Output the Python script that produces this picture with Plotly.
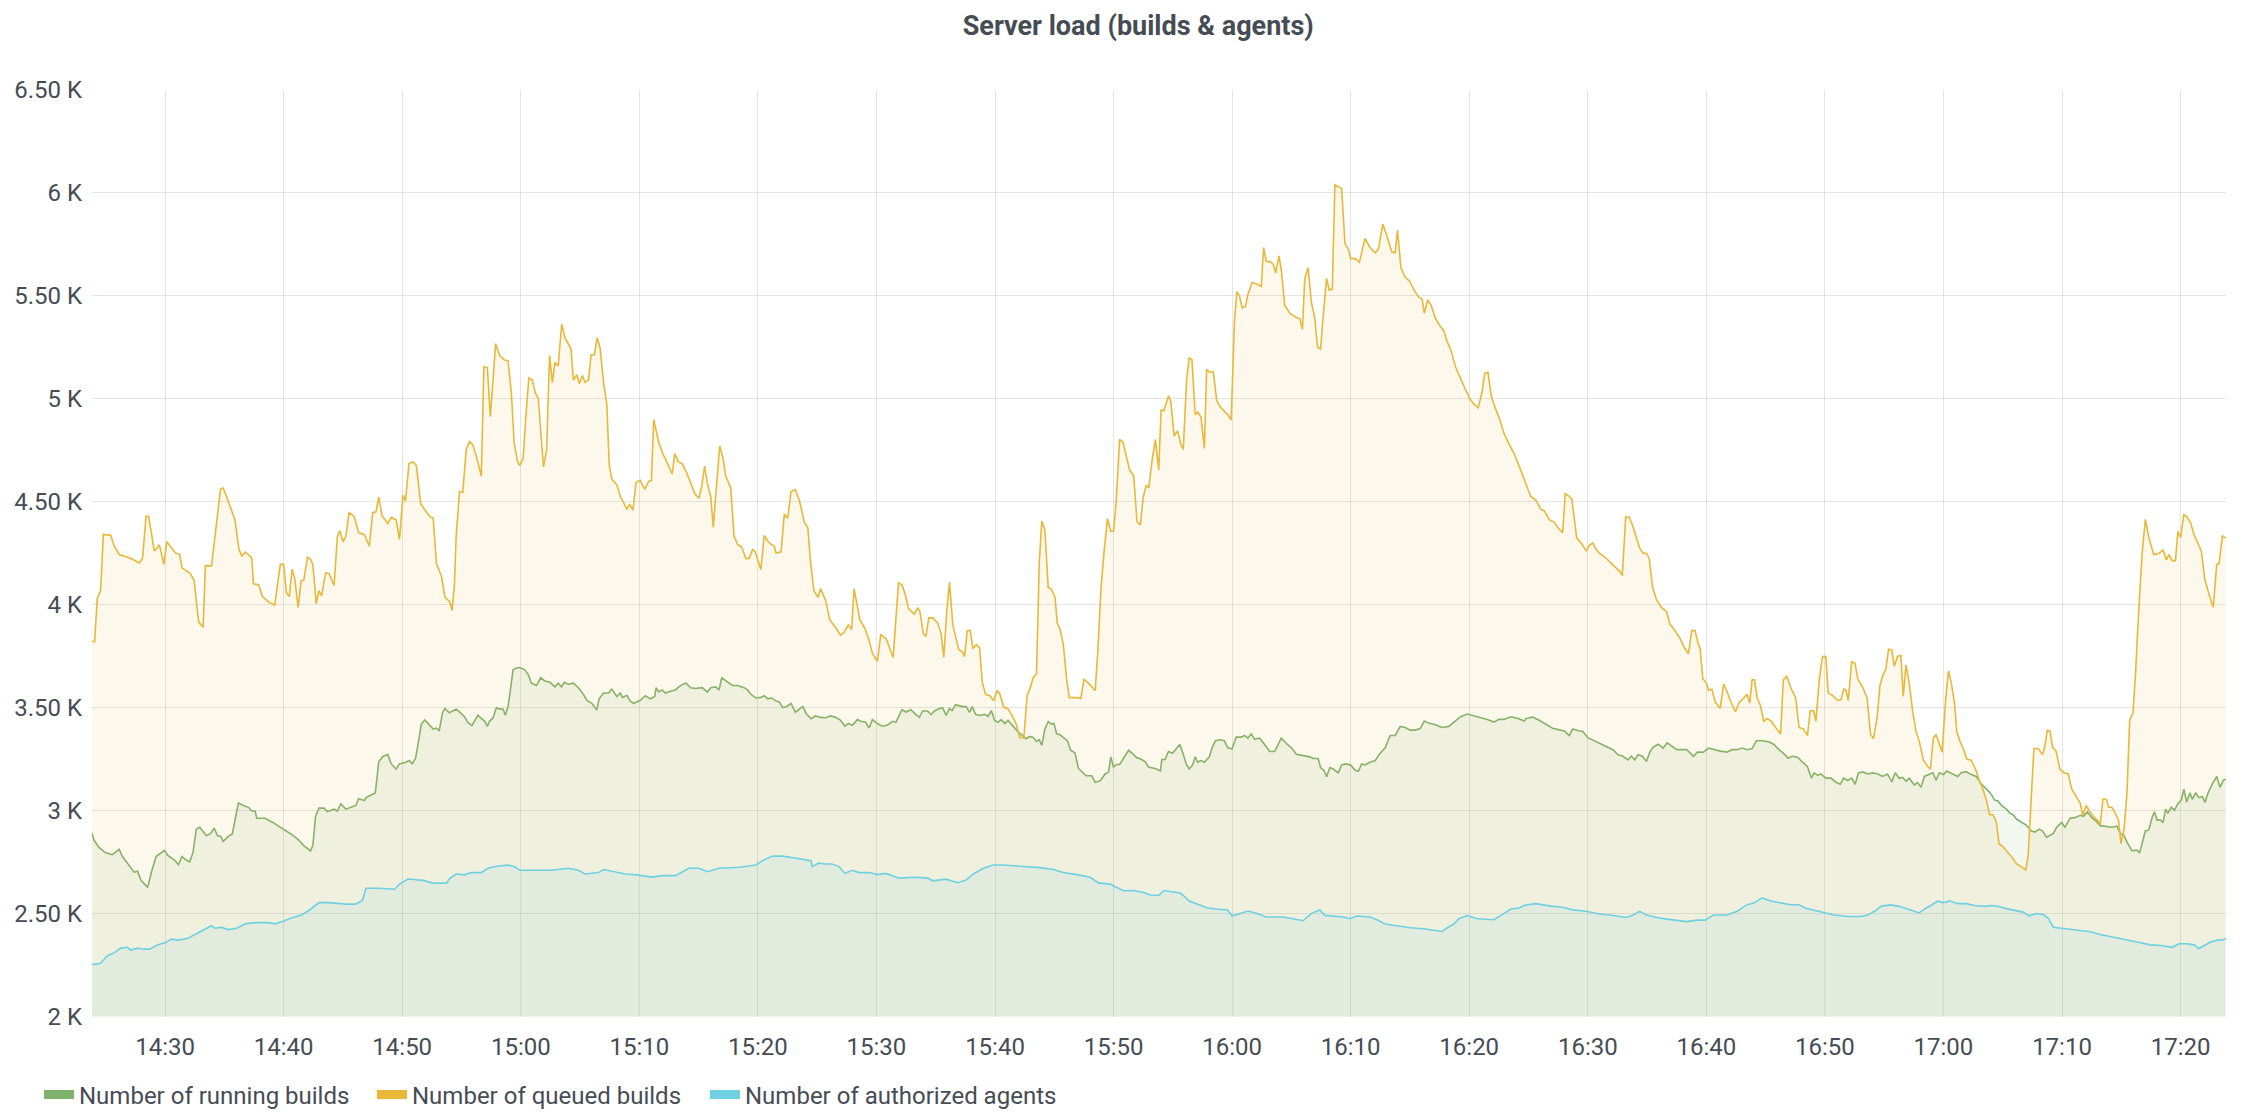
import pandas as pd
import plotly.graph_objects as go

# ---------------- data ----------------
BASE_TIME = "2024-01-01 14:24:00"          # time offsets below are minutes after this
TITLE = "Server load (builds & agents)"
SERIES_NAMES = ["Number of running builds", "Number of queued builds", "Number of authorized agents"]
SERIES_COLORS = ["#7EB26D", "#EAB839", "#6ED0E0"]
FILL_COLORS = ["rgba(126,178,109,0.1)", "rgba(222,190,70,0.1)", "rgba(110,208,224,0.1)"]
Y_TICK_VALUES = [2000, 2500, 3000, 3500, 4000, 4500, 5000, 5500, 6000, 6500]
Y_TICK_LABELS = ["2 K", "2.50 K", "3 K", "3.50 K", "4 K", "4.50 K", "5 K", "5.50 K", "6 K", "6.50 K"]
X_RANGE = ["2024-01-01 14:23:50", "2024-01-01 17:23:50"]

# Number of queued builds
Q_T = [-0.17, 0.05, 0.28, 0.56, 0.79, 1.41, 1.69, 2.12, 3.11, 3.82, 4.10, 4.39, 4.61, 5.09, 5.52, 5.89, 6.14, 6.51, 6.85, 7.22,
       7.44, 8.07, 8.44, 8.83, 9.20, 9.40, 9.91, 10.19, 10.67, 10.90, 11.18, 11.89, 12.23, 12.46, 12.74, 13.03, 13.31, 13.45, 13.88, 14.22,
       14.73, 15.24, 15.43, 15.72, 16.00, 16.23, 16.48, 16.71, 16.93, 17.22, 17.47, 17.70, 18.01, 18.27, 18.46, 18.75, 18.97, 19.20, 19.54, 19.82,
       20.25, 20.53, 20.73, 21.01, 21.24, 21.52, 21.95, 22.32, 22.80, 23.22, 23.51, 23.79, 24.02, 24.30, 24.78, 25.07, 25.49, 25.77, 26.06, 26.28,
       26.57, 26.91, 27.19, 27.56, 27.90, 28.32, 28.61, 28.89, 29.31, 29.60, 30.02, 30.20, 30.40, 30.55, 30.83, 31.11, 31.40, 31.68, 31.96, 32.24,
       32.67, 32.89, 33.18, 33.43, 33.66, 33.88, 34.22, 34.64, 34.93, 35.21, 35.44, 35.72, 35.92, 36.20, 36.42, 36.68, 36.96, 37.24, 37.47, 37.69,
       37.92, 38.18, 38.43, 38.66, 38.88, 39.16, 39.45, 39.73, 40.07, 40.24, 40.44, 40.72, 40.94, 41.20, 41.42, 41.71, 41.93, 42.21, 42.44, 42.69,
       42.98, 43.26, 43.46, 43.68, 44.11, 44.39, 44.67, 44.95, 45.18, 45.46, 45.72, 46.08, 46.45, 46.79, 47.02, 47.21, 47.64, 47.98, 48.34, 48.77,
       48.99, 49.28, 49.62, 49.95, 50.32, 50.69, 51.03, 51.25, 51.51, 51.73, 52.02, 52.24, 52.44, 52.78, 53.06, 53.29, 53.71, 53.99, 54.28, 54.64,
       54.98, 55.27, 55.55, 55.77, 56.25, 56.54, 56.82, 57.10, 57.38, 57.53, 57.95, 58.23, 58.51, 58.80, 59.16, 59.50, 59.93, 60.21, 60.44, 60.72,
       61.08, 61.28, 61.71, 62.05, 62.50, 62.98, 63.26, 63.63, 63.91, 64.11, 64.59, 65.04, 65.38, 65.66, 66.08, 66.37, 66.85, 67.13, 67.41, 67.86,
       68.15, 68.43, 68.71, 69.19, 69.47, 69.67, 69.95, 70.18, 70.41, 70.75, 71.17, 71.45, 71.68, 71.93, 72.16, 72.44, 72.72, 72.95, 73.23, 73.43,
       73.66, 73.91, 74.14, 74.42, 74.70, 74.93, 75.21, 75.55, 75.89, 76.17, 76.40, 76.73, 77.10, 77.53, 77.81, 78.09, 78.43, 78.71, 79.00, 79.22,
       79.50, 79.73, 79.95, 80.21, 80.49, 80.77, 81.06, 81.25, 81.48, 81.76, 82.05, 82.27, 82.61, 82.95, 83.23, 83.51, 83.80, 84.08, 84.45, 84.67,
       84.95, 85.21, 85.49, 85.77, 86.00, 86.23, 86.51, 86.79, 87.07, 87.36, 87.70, 87.98, 88.26, 88.49, 88.74, 88.97, 89.25, 89.53, 89.81, 90.01,
       90.24, 90.63, 90.83, 91.11, 91.40, 91.68, 91.88, 92.16, 92.38, 92.61, 92.89, 93.09, 93.38, 93.66, 93.85, 94.08, 94.42, 94.70, 94.98, 95.35,
       95.63, 95.92, 96.20, 96.40, 96.62, 96.85, 97.13, 97.33, 97.69, 98.03, 98.46, 98.66, 98.88, 99.31, 99.50, 99.67, 99.95, 100.15, 100.44, 100.86,
       101.42, 101.71, 101.93, 102.13, 102.41, 102.69, 102.98, 103.20, 103.46, 103.68, 103.97, 104.19, 104.45, 104.67, 104.95, 105.24, 105.52, 105.80, 106.00, 106.37,
       106.73, 107.21, 107.63, 108.06, 108.34, 108.71, 109.05, 109.47, 109.75, 109.95, 110.24, 110.60, 110.97, 111.31, 111.73, 112.02, 112.21, 112.50, 112.78, 113.15,
       113.57, 113.86, 114.14, 114.47, 114.84, 115.27, 115.69, 116.06, 116.40, 116.76, 117.10, 117.30, 117.58, 117.86, 118.15, 118.51, 118.94, 119.36, 119.79, 120.10,
       120.70, 121.19, 121.62, 122.04, 122.32, 122.75, 123.17, 123.45, 123.88, 124.10, 124.44, 124.66, 124.87, 125.07, 125.44, 125.86, 126.14, 126.42, 126.71, 126.99,
       127.41, 127.84, 128.26, 128.69, 128.91, 129.20, 129.48, 129.76, 130.10, 130.38, 130.67, 130.95, 131.18, 131.46, 131.80, 132.22, 132.65, 132.93, 133.36, 133.78,
       134.20, 134.49, 134.77, 135.05, 135.28, 135.48, 135.70, 135.99, 136.18, 136.47, 136.75, 137.17, 137.46, 137.74, 138.02, 138.45, 138.73, 139.15, 139.44, 139.66,
       139.86, 140.06, 140.29, 140.57, 140.85, 141.14, 141.48, 141.93, 142.27, 142.49, 142.78, 143.12, 143.54, 143.82, 144.19, 144.53, 144.76, 145.04, 145.24, 145.52,
       145.80, 146.08, 146.28, 146.64, 147.08, 147.37, 147.58, 147.78, 147.97, 148.26, 148.54, 148.77, 149.20, 149.56, 149.85, 150.10, 150.40, 150.65, 150.86, 151.14,
       151.37, 151.65, 151.85, 152.13, 152.41, 152.61, 152.84, 153.12, 153.40, 153.68, 153.97, 154.31, 154.67, 154.90, 155.15, 155.38, 155.66, 155.89, 156.17, 156.42,
       156.65, 156.93, 157.13, 157.41, 157.69, 157.98, 158.34, 158.71, 159.05, 159.33, 159.62, 159.90, 160.18, 160.46, 160.69, 161.03, 161.31, 161.73, 162.16, 162.58,
       162.95, 163.15, 163.34, 163.63, 164.00, 164.36, 164.56, 164.76, 164.99, 165.21, 165.49, 165.83, 166.17, 166.53, 166.82, 167.24, 167.53, 167.75, 168.03, 168.36,
       168.64, 169.08, 169.22, 169.45, 169.73, 169.93, 170.20, 170.49, 170.77, 170.97, 171.24, 171.48, 171.71, 171.99, 172.19, 172.47, 172.75, 173.03, 173.32, 173.74,
       174.16, 174.53, 174.81, 175.01, 175.29, 175.57, 175.77, 176.00, 176.28, 176.51, 176.85, 177.13, 177.47, 177.75, 178.03, 178.40, 178.76, 179.05, 179.25, 179.53,
       179.81]
Q_V = [3823, 3820, 4032, 4067, 4341, 4337, 4288, 4244, 4226, 4203, 4226, 4429, 4429, 4261, 4291, 4196, 4306, 4280, 4253, 4244,
       4178, 4155, 4120, 3917, 3890, 4190, 4188, 4323, 4562, 4567, 4526, 4412, 4270, 4235, 4256, 4244, 4226, 4102, 4097, 4040,
       4014, 3998, 4085, 4196, 4196, 4058, 4040, 4173, 4129, 3987, 4115, 4120, 4231, 4221, 4196, 4005, 4069, 4044, 4155, 4152,
       4094, 4332, 4359, 4306, 4332, 4447, 4429, 4350, 4341, 4284, 4447, 4451, 4523, 4433, 4394, 4424, 4412, 4318, 4532, 4504,
       4686, 4694, 4677, 4491, 4461, 4429, 4420, 4200, 4138, 4037, 4014, 3972, 4095, 4333, 4550, 4546, 4755, 4792, 4777, 4723,
       4625, 5156, 5152, 4913, 5091, 5268, 5210, 5188, 5184, 5026, 4788, 4697, 4675, 4712, 4907, 5102, 5091, 5026, 5004, 4831,
       4669, 4755, 5210, 5080, 5177, 5160, 5362, 5297, 5264, 5242, 5091, 5117, 5074, 5113, 5080, 5091, 5214, 5214, 5297, 5247,
       5080, 4972, 4680, 4610, 4582, 4528, 4496, 4463, 4489, 4459, 4593, 4604, 4560, 4600, 4602, 4900, 4788, 4734, 4690, 4636,
       4734, 4695, 4684, 4647, 4593, 4539, 4517, 4571, 4673, 4593, 4528, 4376, 4528, 4771, 4712, 4625, 4567, 4333, 4294, 4279,
       4225, 4225, 4268, 4257, 4171, 4337, 4311, 4294, 4285, 4251, 4257, 4441, 4420, 4550, 4558, 4506, 4398, 4376, 4208, 4069,
       4036, 4078, 4022, 3930, 3893, 3852, 3865, 3902, 3880, 4078, 3930, 3883, 3828, 3763, 3726, 3856, 3831, 3791, 3744, 4106,
       4097, 4051, 3981, 3954, 3986, 3967, 3861, 3846, 3936, 3936, 3911, 3861, 3744, 3967, 4110, 3902, 3837, 3781, 3772, 3748,
       3874, 3874, 3787, 3806, 3791, 3623, 3564, 3559, 3534, 3583, 3568, 3503, 3494, 3453, 3416, 3354, 3354, 3559, 3601, 3646,
       3664, 4199, 4407, 4362, 4084, 4075, 4036, 3911, 3883, 3809, 3633, 3549, 3549, 3549, 3545, 3637, 3624, 3605, 3583, 3772,
       4088, 4264, 4418, 4357, 4357, 4506, 4803, 4790, 4728, 4654, 4626, 4403, 4388, 4519, 4580, 4567, 4701, 4803, 4654, 4946,
       4942, 5014, 4988, 4819, 4845, 4780, 4754, 5091, 5200, 5190, 4923, 4936, 4910, 4759, 5143, 5130, 5130, 4993, 4962, 4941,
       4923, 4897, 5377, 5520, 5502, 5442, 5450, 5507, 5564, 5559, 5546, 5735, 5668, 5663, 5650, 5611, 5694, 5624, 5455, 5416,
       5395, 5390, 5338, 5585, 5637, 5468, 5390, 5252, 5242, 5403, 5585, 5528, 5533, 6039, 6031, 6021, 5753, 5727, 5681, 5681,
       5663, 5779, 5735, 5709, 5727, 5849, 5792, 5714, 5709, 5818, 5637, 5590, 5572, 5533, 5494, 5486, 5416, 5481, 5455, 5390,
       5351, 5330, 5278, 5234, 5156, 5097, 5045, 5000, 4974, 4956, 5039, 5123, 5130, 5014, 4962, 4910, 4832, 4780, 4733, 4690,
       4600, 4526, 4508, 4463, 4458, 4413, 4400, 4376, 4350, 4539, 4526, 4513, 4413, 4325, 4300, 4263, 4288, 4300, 4268, 4250,
       4233, 4208, 4182, 4162, 4142, 4426, 4426, 4388, 4325, 4275, 4250, 4250, 4225, 4087, 4024, 3987, 3966, 3906, 3874, 3836,
       3786, 3761, 3874, 3874, 3816, 3786, 3640, 3622, 3585, 3590, 3527, 3497, 3615, 3580, 3535, 3480, 3522, 3547, 3565, 3522,
       3635, 3635, 3547, 3509, 3434, 3447, 3434, 3397, 3372, 3635, 3653, 3597, 3547, 3404, 3397, 3364, 3485, 3485, 3434, 3635,
       3748, 3748, 3572, 3560, 3535, 3540, 3590, 3585, 3535, 3723, 3715, 3640, 3597, 3547, 3370, 3350, 3450, 3610, 3652, 3687,
       3784, 3779, 3701, 3749, 3754, 3555, 3708, 3616, 3484, 3387, 3334, 3245, 3214, 3201, 3355, 3369, 3325, 3284, 3528, 3678,
       3625, 3525, 3383, 3334, 3298, 3249, 3245, 3201, 3143, 3104, 3051, 2980, 2980, 2945, 2839, 2825, 2804, 2777, 2742, 2724,
       2712, 2786, 2998, 3302, 3302, 3272, 3316, 3390, 3386, 3307, 3290, 3201, 3184, 3178, 3104, 3060, 3037, 2977, 3025, 2995,
       2972, 2949, 2931, 3055, 3055, 3016, 3016, 2989, 2954, 2839, 2913, 3086, 3440, 3475, 3652, 3970, 4244, 4415, 4327, 4244,
       4249, 4265, 4217, 4244, 4214, 4214, 4355, 4327, 4438, 4429, 4398, 4341, 4297, 4261, 4129, 4049, 3988, 4196, 4200, 4336,
       4323]

# Number of running builds
R_T = [-0.17, 0.00, 0.42, 0.99, 1.55, 2.12, 2.40, 2.97, 3.39, 3.68, 3.96, 4.53, 4.87, 5.24, 5.66, 5.94, 6.23, 6.79, 7.13, 7.42,
       7.78, 8.07, 8.35, 8.63, 8.92, 9.48, 9.85, 10.14, 10.42, 10.70, 10.90, 11.33, 11.67, 12.18, 12.60, 13.03, 13.31, 13.59, 13.73, 14.44,
       15.01, 15.58, 16.14, 16.71, 17.27, 17.70, 18.27, 18.46, 18.69, 18.97, 19.40, 19.68, 20.25, 20.53, 20.82, 21.24, 21.67, 22.09, 22.32, 22.80,
       23.00, 23.37, 23.73, 24.02, 24.36, 24.78, 25.07, 25.49, 25.77, 26.20, 26.57, 26.85, 27.13, 27.61, 27.90, 28.32, 28.61, 28.89, 29.12, 29.40,
       29.60, 29.97, 30.55, 30.97, 31.25, 31.54, 31.88, 32.10, 32.38, 32.72, 32.95, 33.18, 33.37, 33.66, 33.94, 34.22, 34.50, 34.70, 34.93, 35.15,
       35.35, 35.63, 35.92, 36.34, 36.62, 36.90, 37.33, 37.69, 38.03, 38.46, 38.88, 39.16, 39.45, 39.67, 40.01, 40.44, 40.86, 41.28, 41.56, 41.99,
       42.41, 42.61, 42.98, 43.40, 43.68, 44.11, 44.39, 44.59, 44.95, 45.24, 45.52, 46.08, 46.51, 46.93, 47.30, 47.41, 47.64, 47.92, 48.20, 48.63,
       49.05, 49.33, 49.67, 49.95, 50.32, 50.75, 51.31, 51.73, 52.02, 52.44, 52.72, 52.95, 53.43, 53.85, 54.28, 54.84, 55.12, 55.41, 55.83, 56.25,
       56.54, 56.82, 57.19, 57.53, 57.81, 58.09, 58.43, 58.80, 59.16, 59.50, 59.79, 60.07, 60.49, 60.86, 61.28, 61.71, 62.13, 62.55, 62.98, 63.34,
       63.63, 63.97, 64.39, 64.67, 65.10, 65.38, 65.66, 66.08, 66.51, 66.93, 67.36, 67.64, 67.92, 68.15, 68.49, 68.91, 69.33, 69.62, 69.90, 70.32,
       70.60, 70.89, 71.31, 71.59, 71.88, 72.16, 72.38, 72.67, 72.95, 73.29, 73.57, 73.85, 74.08, 74.36, 74.70, 75.12, 75.41, 75.69, 75.97, 76.25,
       76.54, 76.82, 77.10, 77.38, 77.67, 77.95, 78.32, 78.60, 78.94, 79.22, 79.50, 79.73, 79.95, 80.21, 80.49, 80.77, 80.97, 81.20, 81.48, 81.76,
       82.10, 82.38, 82.75, 83.03, 83.40, 83.68, 84.16, 84.45, 84.87, 85.29, 85.58, 85.77, 86.00, 86.23, 86.51, 86.79, 87.27, 87.64, 87.98, 88.26,
       88.68, 88.97, 89.45, 89.95, 90.07, 90.35, 90.63, 90.97, 91.31, 91.59, 91.88, 92.16, 92.38, 92.67, 92.89, 93.09, 93.37, 93.66, 94.08, 94.31,
       94.59, 94.98, 95.35, 95.63, 96.00, 96.34, 96.76, 97.05, 97.33, 97.61, 97.89, 98.32, 98.74, 99.16, 99.59, 100.15, 100.58, 101.00, 101.42, 101.99,
       102.55, 102.84, 103.26, 103.46, 103.74, 103.97, 104.25, 104.53, 104.95, 105.24, 105.60, 106.00, 106.37, 106.65, 106.93, 107.21, 107.64, 108.06, 108.49, 108.91,
       109.33, 109.76, 110.18, 110.60, 111.03, 111.45, 111.88, 112.21, 112.58, 113.15, 113.71, 114.28, 114.84, 115.27, 115.83, 116.40, 116.96, 117.53, 118.09, 118.51,
       118.94, 119.50, 120.07, 120.66, 120.77, 121.33, 121.90, 122.46, 123.03, 123.60, 124.02, 124.44, 124.73, 125.15, 125.58, 126.00, 126.57, 127.13, 127.70, 128.12,
       128.55, 128.97, 129.39, 129.68, 129.96, 130.24, 130.61, 130.95, 131.23, 131.52, 131.94, 132.36, 132.70, 133.07, 133.50, 134.35, 134.91, 135.25, 135.76, 136.18,
       136.61, 137.17, 137.74, 138.16, 138.59, 139.01, 139.44, 139.86, 140.23, 140.71, 141.28, 141.70, 142.12, 142.49, 142.89, 143.26, 143.68, 144.11, 144.53, 144.87,
       145.09, 145.38, 145.66, 146.08, 146.51, 146.93, 147.30, 147.58, 147.92, 148.26, 148.55, 148.83, 149.20, 149.62, 150.05, 150.47, 150.86, 151.28, 151.65, 151.93,
       152.27, 152.55, 152.84, 153.12, 153.54, 153.82, 154.11, 154.39, 154.76, 155.10, 155.38, 155.66, 156.00, 156.28, 156.56, 156.93, 157.21, 157.50, 157.92, 158.34,
       158.76, 159.19, 159.62, 159.95, 160.32, 160.60, 160.89, 161.31, 161.59, 161.88, 162.16, 162.58, 163.01, 163.43, 163.71, 164.08, 164.36, 164.70, 164.98, 165.27,
       165.55, 165.97, 166.25, 166.68, 167.10, 167.53, 167.81, 168.15, 168.51, 168.88, 169.22, 169.79, 170.21, 170.63, 170.92, 171.20, 171.48, 171.90, 172.33, 172.55,
       172.84, 173.03, 173.32, 173.60, 173.80, 174.02, 174.31, 174.53, 174.73, 174.93, 175.21, 175.49, 175.77, 176.06, 176.28, 176.51, 176.79, 176.99, 177.27, 177.55,
       177.84, 178.06, 178.32, 178.68, 179.05, 179.33, 179.62, 179.81]
R_V = [2892, 2857, 2821, 2795, 2786, 2812, 2777, 2733, 2701, 2706, 2662, 2627, 2707, 2777, 2795, 2807, 2782, 2760, 2737, 2777,
       2760, 2751, 2795, 2910, 2919, 2878, 2889, 2915, 2878, 2875, 2851, 2875, 2887, 3037, 3025, 3016, 2998, 2998, 2963, 2963,
       2945, 2924, 2901, 2883, 2857, 2830, 2804, 2830, 2972, 3012, 3012, 2995, 3007, 2998, 3033, 3007, 3016, 3025, 3058, 3049,
       3065, 3077, 3086, 3237, 3263, 3272, 3228, 3201, 3228, 3232, 3243, 3228, 3254, 3419, 3440, 3414, 3396, 3401, 3387, 3475,
       3496, 3475, 3493, 3472, 3456, 3428, 3413, 3435, 3463, 3446, 3435, 3409, 3435, 3450, 3500, 3493, 3493, 3463, 3506, 3597,
       3684, 3693, 3695, 3684, 3662, 3619, 3608, 3645, 3630, 3623, 3601, 3619, 3601, 3623, 3614, 3619, 3597, 3565, 3536, 3521,
       3489, 3543, 3571, 3571, 3589, 3554, 3571, 3550, 3560, 3532, 3521, 3536, 3558, 3543, 3554, 3597, 3576, 3586, 3571, 3580,
       3586, 3601, 3614, 3619, 3597, 3593, 3597, 3576, 3597, 3601, 3586, 3645, 3623, 3608, 3608, 3597, 3586, 3565, 3547, 3550,
       3558, 3543, 3547, 3532, 3528, 3500, 3506, 3521, 3478, 3493, 3506, 3472, 3446, 3460, 3453, 3451, 3460, 3453, 3438, 3410,
       3423, 3414, 3442, 3434, 3429, 3401, 3442, 3423, 3410, 3416, 3434, 3429, 3460, 3490, 3479, 3490, 3466, 3453, 3484, 3484,
       3466, 3484, 3496, 3499, 3462, 3496, 3486, 3514, 3510, 3505, 3505, 3477, 3505, 3468, 3462, 3468, 3458, 3486, 3438, 3429,
       3442, 3423, 3438, 3419, 3401, 3382, 3364, 3349, 3360, 3355, 3336, 3345, 3317, 3397, 3433, 3420, 3423, 3373, 3368, 3355,
       3340, 3293, 3280, 3206, 3187, 3169, 3169, 3137, 3145, 3178, 3187, 3261, 3211, 3224, 3224, 3252, 3293, 3274, 3256, 3252,
       3237, 3211, 3206, 3193, 3248, 3248, 3287, 3279, 3300, 3321, 3274, 3222, 3202, 3222, 3261, 3235, 3243, 3235, 3261, 3305,
       3339, 3344, 3339, 3305, 3300, 3357, 3357, 3365, 3352, 3373, 3347, 3352, 3321, 3287, 3287, 3352, 3326, 3305, 3274, 3269,
       3261, 3253, 3253, 3209, 3196, 3165, 3209, 3202, 3183, 3222, 3227, 3222, 3196, 3191, 3227, 3222, 3235, 3243, 3279, 3305,
       3365, 3365, 3409, 3404, 3391, 3391, 3399, 3435, 3425, 3417, 3404, 3409, 3435, 3456, 3469, 3461, 3451, 3443, 3430, 3443,
       3443, 3456, 3448, 3435, 3447, 3454, 3439, 3418, 3400, 3392, 3387, 3364, 3397, 3389, 3384, 3354, 3339, 3321, 3309, 3296,
       3271, 3264, 3246, 3264, 3246, 3271, 3264, 3238, 3284, 3309, 3322, 3304, 3329, 3314, 3296, 3296, 3264, 3284, 3284, 3304,
       3296, 3289, 3284, 3296, 3296, 3304, 3296, 3301, 3339, 3339, 3334, 3321, 3296, 3279, 3254, 3264, 3259, 3234, 3213, 3158,
       3183, 3171, 3178, 3158, 3158, 3138, 3128, 3158, 3146, 3158, 3128, 3183, 3188, 3178, 3183, 3178, 3166, 3178, 3139, 3184,
       3157, 3161, 3143, 3157, 3125, 3136, 3113, 3166, 3175, 3184, 3148, 3184, 3175, 3192, 3184, 3175, 3166, 3184, 3189, 3175,
       3166, 3130, 3104, 3086, 3051, 3047, 3025, 3007, 2989, 2980, 2959, 2945, 2928, 2901, 2896, 2910, 2901, 2871, 2878, 2889,
       2919, 2942, 2919, 2963, 2966, 2977, 2972, 2994, 2966, 2949, 2927, 2924, 2919, 2924, 2888, 2883, 2847, 2805, 2808, 2795,
       2853, 2901, 2906, 2966, 2994, 2954, 2954, 2942, 3007, 2989, 3016, 3002, 3033, 3051, 3104, 3042, 3086, 3055, 3085, 3063,
       3069, 3040, 3086, 3130, 3166, 3113, 3148, 3152]

# Number of authorized agents
A_T = [-0.17, 0.56, 1.13, 1.69, 2.26, 2.83, 3.11, 3.68, 4.24, 4.67, 5.38, 6.08, 6.51, 7.08, 7.93, 8.49, 9.20, 9.91, 10.19, 10.76,
       11.33, 12.03, 12.74, 13.59, 14.73, 15.29, 16.00, 16.71, 17.56, 18.27, 18.97, 19.82, 21.24, 22.09, 22.66, 22.94, 24.07, 25.35, 25.77, 26.48,
       27.19, 27.76, 28.61, 29.74, 30.02, 30.55, 31.25, 31.82, 32.67, 33.23, 34.08, 34.93, 35.49, 35.92, 36.90, 38.60, 39.99, 40.86, 41.42, 42.55,
       42.98, 43.68, 44.81, 45.80, 47.07, 47.92, 49.05, 50.18, 51.03, 51.73, 52.72, 54.42, 55.83, 56.40, 57.24, 58.09, 58.94, 59.79, 60.49, 60.58,
       61.14, 61.71, 62.27, 62.84, 63.34, 63.97, 64.53, 65.38, 66.08, 66.79, 67.92, 69.33, 70.32, 70.75, 71.88, 72.86, 73.57, 74.14, 74.98, 75.83,
       76.68, 77.53, 78.66, 79.79, 80.92, 81.76, 82.89, 84.02, 84.73, 85.72, 86.14, 86.85, 87.70, 88.54, 89.11, 89.81, 90.24, 90.97, 91.68, 92.38,
       93.23, 93.94, 94.64, 95.63, 96.00, 96.76, 97.33, 98.03, 98.88, 100.29, 101.42, 101.99, 102.69, 103.40, 103.82, 104.53, 105.38, 105.94, 106.51, 107.64,
       108.21, 108.91, 109.90, 111.03, 112.16, 113.01, 113.71, 114.14, 114.70, 115.12, 115.83, 116.68, 118.09, 118.94, 119.50, 120.21, 120.66, 121.62, 122.18, 122.89,
       123.88, 124.73, 125.86, 126.99, 127.84, 128.69, 129.25, 129.82, 130.38, 130.95, 131.80, 132.65, 133.50, 134.35, 135.19, 135.90, 136.61, 137.74, 138.59, 139.44,
       140.00, 140.71, 141.42, 142.27, 143.12, 143.82, 144.39, 145.09, 145.94, 146.79, 147.92, 149.06, 149.62, 150.19, 150.78, 151.56, 152.27, 152.84, 153.54, 153.97,
       154.39, 154.95, 155.52, 156.00, 156.51, 157.21, 157.92, 158.63, 159.47, 160.04, 160.60, 161.31, 162.16, 162.72, 163.23, 163.85, 164.42, 164.84, 165.27, 165.97,
       166.82, 167.53, 168.38, 169.22, 170.07, 171.20, 172.33, 173.46, 174.31, 175.29, 175.86, 176.57, 177.13, 177.55, 177.97, 178.53, 179.11, 179.53, 179.81]
A_V = [2252, 2259, 2295, 2309, 2332, 2336, 2323, 2332, 2327, 2327, 2348, 2359, 2376, 2371, 2380, 2397, 2418, 2441, 2429, 2433,
       2422, 2429, 2450, 2456, 2456, 2450, 2464, 2480, 2494, 2521, 2553, 2553, 2546, 2546, 2565, 2623, 2623, 2618, 2643, 2668,
       2664, 2661, 2648, 2648, 2671, 2692, 2688, 2699, 2699, 2720, 2731, 2735, 2727, 2710, 2710, 2710, 2720, 2710, 2692, 2699,
       2714, 2705, 2692, 2688, 2677, 2684, 2684, 2720, 2720, 2703, 2720, 2725, 2736, 2757, 2779, 2779, 2770, 2764, 2757, 2728,
       2745, 2741, 2741, 2728, 2695, 2710, 2699, 2699, 2689, 2695, 2672, 2676, 2672, 2659, 2667, 2650, 2663, 2691, 2719, 2736,
       2736, 2732, 2728, 2723, 2714, 2699, 2689, 2676, 2649, 2643, 2630, 2611, 2612, 2602, 2590, 2588, 2612, 2604, 2599, 2561,
       2543, 2527, 2522, 2517, 2488, 2501, 2512, 2501, 2483, 2483, 2470, 2465, 2501, 2517, 2491, 2488, 2483, 2475, 2488, 2483,
       2470, 2449, 2439, 2431, 2426, 2418, 2413, 2431, 2449, 2475, 2490, 2475, 2470, 2501, 2522, 2527, 2540, 2548, 2543, 2536,
       2531, 2518, 2511, 2498, 2493, 2486, 2481, 2493, 2511, 2493, 2481, 2473, 2466, 2461, 2468, 2468, 2493, 2493, 2511, 2543,
       2551, 2576, 2561, 2551, 2543, 2543, 2526, 2516, 2506, 2493, 2486, 2486, 2493, 2511, 2536, 2542, 2535, 2524, 2512, 2503,
       2521, 2542, 2560, 2553, 2562, 2548, 2548, 2539, 2535, 2539, 2535, 2524, 2512, 2507, 2489, 2500, 2495, 2477, 2433, 2429,
       2424, 2419, 2412, 2398, 2389, 2377, 2362, 2348, 2345, 2336, 2353, 2353, 2348, 2330, 2345, 2362, 2371, 2371, 2380]


def to_time(offsets):
    base = pd.Timestamp(BASE_TIME)
    return [base + pd.Timedelta(minutes=m) for m in offsets]


SERIES = [(R_T, R_V), (Q_T, Q_V), (A_T, A_V)]
LEGEND_ENTRY_WIDTHS = [288, 288, 400]

fig = go.Figure()
for (ts, vs), name, color, fill in zip(SERIES, SERIES_NAMES, SERIES_COLORS, FILL_COLORS):
    fig.add_trace(go.Scatter(
        x=to_time(ts), y=vs, name=name, mode="lines",
        line=dict(color=color, width=1.6),
        fill="tozeroy", fillcolor=fill,
        showlegend=False, hoverinfo="skip",
    ))
# legend entries (coloured bars like the original legend)
for name, color, lw in zip(SERIES_NAMES, SERIES_COLORS, LEGEND_ENTRY_WIDTHS):
    fig.add_trace(go.Scatter(
        x=[None], y=[None], name=name, mode="lines",
        line=dict(color=color, width=9), showlegend=True, legendwidth=lw,
    ))

TEXT_COLOR = "#464c54"
GRID_COLOR = "rgba(0,0,0,0.1)"

fig.update_layout(
    width=2254, height=1120, autosize=False,
    margin=dict(l=92, r=28, t=90, b=101, pad=0),
    paper_bgcolor="white", plot_bgcolor="white",
    font=dict(family="Roboto, 'Open Sans', sans-serif", size=24, color=TEXT_COLOR),
    title=dict(
        text=TITLE, xref="container", x=0.505, xanchor="center",
        yref="container", y=1 - 26 / 1120, yanchor="middle",
        font=dict(size=27, color=TEXT_COLOR, weight="bold"),
    ),
    showlegend=True,
    legend=dict(
        orientation="h", xref="container", x=39 / 2254, xanchor="left",
        yref="container", y=1 - 1095 / 1120, yanchor="middle",
        font=dict(size=24, color=TEXT_COLOR), bgcolor="rgba(0,0,0,0)",
        itemclick=False, itemdoubleclick=False,
    ),
    xaxis=dict(
        type="date", range=X_RANGE, tickformat="%H:%M",
        tick0="2024-01-01 14:30:00", dtick=600000,
        showgrid=True, gridcolor=GRID_COLOR, gridwidth=1.2,
        zeroline=False, showline=False, ticks="",
        ticklabelstandoff=13, tickfont=dict(size=24, color=TEXT_COLOR),
        fixedrange=True,
    ),
    yaxis=dict(
        range=[2000, 6500], tickmode="array",
        tickvals=Y_TICK_VALUES, ticktext=Y_TICK_LABELS,
        showgrid=True, gridcolor=GRID_COLOR, gridwidth=1.2,
        zeroline=False, showline=False, ticks="",
        ticklabelstandoff=9, tickfont=dict(size=24, color=TEXT_COLOR),
        fixedrange=True,
    ),
)

fig.write_html("out.html", include_plotlyjs=True, config={"displayModeBar": False})
